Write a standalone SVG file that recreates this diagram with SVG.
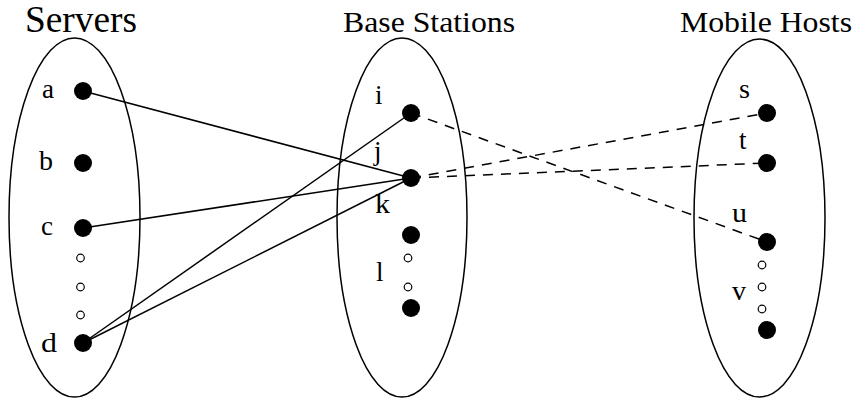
<svg xmlns="http://www.w3.org/2000/svg" width="856" height="398" viewBox="0 0 856 398">
<style>
.grp{fill:none;stroke:#000;stroke-width:1.5}
.dot{fill:#000}
.sm{fill:#fff;stroke:#000;stroke-width:1.2}
.lbl{font-family:"Liberation Serif",serif;font-size:27px;fill:#000}
.ttl{font-family:"Liberation Serif",serif;fill:#000}
.solid{stroke:#000;stroke-width:1.5;fill:none}
.dash{stroke:#000;stroke-width:1.5;fill:none;stroke-dasharray:10 8}
</style>
<rect width="856" height="398" fill="#fff"/>
<g id="servers">
<text class="ttl" x="25" y="32" font-size="37" textLength="112" lengthAdjust="spacingAndGlyphs">Servers</text>
<ellipse class="grp" cx="74.5" cy="217.5" rx="65.5" ry="179.5"/>
</g>
<g id="base-stations">
<text class="ttl" x="343" y="32" font-size="30" textLength="172" lengthAdjust="spacingAndGlyphs">Base Stations</text>
<ellipse class="grp" cx="402" cy="217.5" rx="65" ry="179.5"/>
</g>
<g id="mobile-hosts">
<text class="ttl" x="680" y="32" font-size="30" textLength="172" lengthAdjust="spacingAndGlyphs">Mobile Hosts</text>
<ellipse class="grp" cx="759.5" cy="218" rx="65.5" ry="179"/>
</g>
<g id="connectors">
<line class="solid" x1="83" y1="91" x2="411" y2="178"/>
<line class="solid" x1="83" y1="228" x2="411" y2="178"/>
<line class="solid" x1="83" y1="343" x2="411" y2="113"/>
<line class="solid" x1="83" y1="343" x2="411" y2="178"/>
<line class="dash" x1="411" y1="113" x2="767" y2="242"/>
<line class="dash" x1="411" y1="178" x2="767" y2="113"/>
<line class="dash" x1="411" y1="178" x2="767" y2="163"/>
</g>
<g id="node-a"><circle class="dot" cx="83" cy="91" r="9"/><text class="lbl" x="42" y="98" textLength="12" lengthAdjust="spacingAndGlyphs">a</text></g>
<g id="node-b"><circle class="dot" cx="83" cy="163" r="9"/><text class="lbl" x="39" y="170" textLength="14" lengthAdjust="spacingAndGlyphs">b</text></g>
<g id="node-c"><circle class="dot" cx="83" cy="228" r="9"/><text class="lbl" x="41" y="235" textLength="12" lengthAdjust="spacingAndGlyphs">c</text></g>
<g id="servers-ellipsis"><circle class="sm" cx="80.5" cy="258" r="3.8"/><circle class="sm" cx="80.5" cy="287" r="3.8"/><circle class="sm" cx="80.5" cy="315" r="3.8"/></g>
<g id="node-d"><circle class="dot" cx="83" cy="343" r="9"/><text class="lbl" x="41" y="352" textLength="16" lengthAdjust="spacingAndGlyphs">d</text></g>
<g id="node-i"><circle class="dot" cx="411" cy="113" r="9"/><text class="lbl" x="375" y="104">i</text></g>
<g id="node-j"><circle class="dot" cx="411" cy="178" r="9"/><text class="lbl" x="374" y="160">j</text></g>
<g id="node-k"><circle class="dot" cx="411" cy="235" r="9"/><text class="lbl" x="375" y="213" textLength="15" lengthAdjust="spacingAndGlyphs">k</text></g>
<g id="bs-ellipsis"><circle class="sm" cx="408" cy="258" r="3.8"/><circle class="sm" cx="408" cy="287" r="3.8"/></g>
<g id="node-l"><circle class="dot" cx="411" cy="308" r="9"/><text class="lbl" x="376" y="281">l</text></g>
<g id="node-s"><circle class="dot" cx="767" cy="113" r="9"/><text class="lbl" x="739" y="98" textLength="11" lengthAdjust="spacingAndGlyphs">s</text></g>
<g id="node-t"><circle class="dot" cx="767" cy="163" r="9"/><text class="lbl" x="739" y="149">t</text></g>
<g id="node-u"><circle class="dot" cx="767" cy="242" r="9"/><text class="lbl" x="732" y="222" textLength="15" lengthAdjust="spacingAndGlyphs">u</text></g>
<g id="mh-ellipsis"><circle class="sm" cx="762" cy="265" r="3.8"/><circle class="sm" cx="762" cy="287" r="3.8"/><circle class="sm" cx="762" cy="309" r="3.8"/></g>
<g id="node-v"><circle class="dot" cx="767" cy="330" r="9"/><text class="lbl" x="732" y="300" textLength="14" lengthAdjust="spacingAndGlyphs">v</text></g>
</svg>
